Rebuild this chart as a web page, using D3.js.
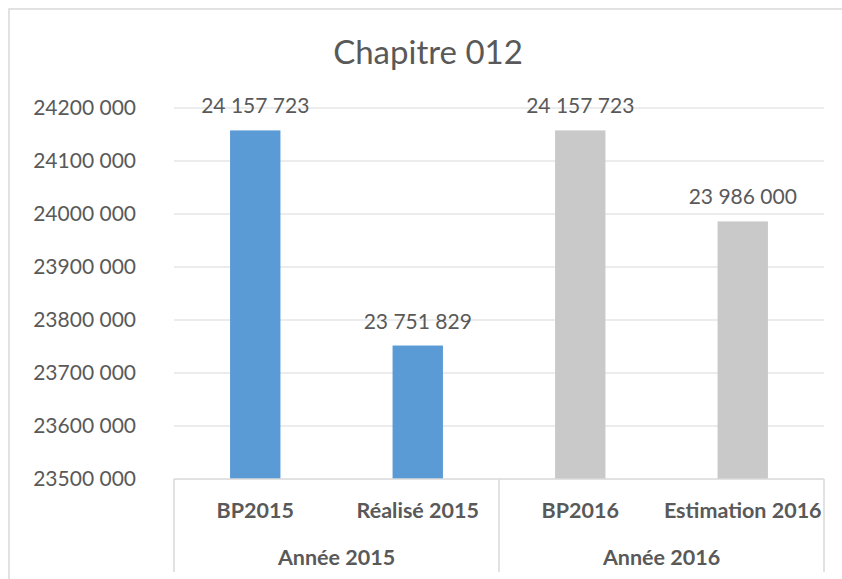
<!DOCTYPE html>
<html>
<head>
<meta charset="utf-8">
<script src="https://cdn.jsdelivr.net/npm/d3@7"></script>
<style>
  html, body { margin: 0; padding: 0; background: #fff; }
  svg { display: block; }
  text { font-family: Lato, "Open Sans", sans-serif; fill: #595959; }
</style>
</head>
<body>
<svg id="chart" width="842" height="579"></svg>
<script>
const title = "Chapitre 012";
const categories = ["BP2015", "Réalisé 2015", "BP2016", "Estimation 2016"];
const groups = ["Année 2015", "Année 2016"];
const groupOf = ["Année 2015", "Année 2015", "Année 2016", "Année 2016"];
const values = [24157723, 23751829, 24157723, 23986000];
const colors = ["#5B9BD5", "#5B9BD5", "#C9C9C9", "#C9C9C9"];
const yTicks = [23500000, 23600000, 23700000, 23800000, 23900000, 24000000, 24100000, 24200000];

const svg = d3.select("#chart");
const W = 842, H = 579;
const plot = { left: 174, right: 824, top: 108, bottom: 479 };

// outer chart border
svg.append("rect")
  .attr("x", 9).attr("y", 9).attr("width", 850).attr("height", 600)
  .attr("fill", "none").attr("stroke", "#D9D9D9").attr("stroke-width", 1.5);

const y = d3.scaleLinear().domain([23500000, 24200000]).range([plot.bottom, plot.top]);
const x = d3.scaleBand().domain(categories).range([plot.left, plot.right]).paddingInner(0).paddingOuter(0);
const xg = d3.scaleBand().domain(groups).range([plot.left, plot.right]);

const fmtSpace = n => String(n).replace(/\B(?=(\d{3})+(?!\d))/g, " ");
const fmtTick = n => {
  const s = String(n);
  return s.slice(0, s.length - 3) + " " + s.slice(s.length - 3);
};

// gridlines
svg.append("g").selectAll("line").data(yTicks.filter(t => t !== 23500000)).join("line")
  .attr("x1", plot.left).attr("x2", plot.right)
  .attr("y1", d => y(d)).attr("y2", d => y(d))
  .attr("stroke", "#D9D9D9").attr("stroke-width", 1);

// y labels
svg.append("g").selectAll("text").data(yTicks).join("text")
  .attr("x", 136).attr("y", d => y(d))
  .attr("dy", "0.35em").attr("text-anchor", "end")
  .attr("font-size", 21)
  .text(fmtTick);

// bars
const barW = x.bandwidth() * 0.31;
svg.append("g").selectAll("rect").data(values).join("rect")
  .attr("x", (d, i) => x(categories[i]) + x.bandwidth() / 2 - barW / 2)
  .attr("width", barW)
  .attr("y", d => y(d))
  .attr("height", d => y(23500000) - y(d))
  .attr("fill", (d, i) => colors[i]);

// data labels
svg.append("g").selectAll("text").data(values).join("text")
  .attr("x", (d, i) => x(categories[i]) + x.bandwidth() / 2)
  .attr("y", d => y(d) - 17)
  .attr("text-anchor", "middle")
  .attr("font-size", 21)
  .text(fmtSpace);

// category axis lines
const axis = svg.append("g").attr("stroke", "#D9D9D9").attr("stroke-width", 1.5);
axis.append("line").attr("x1", plot.left).attr("x2", plot.right)
  .attr("y1", plot.bottom).attr("y2", plot.bottom);
const seps = [plot.left, xg("Année 2016"), plot.right];
axis.selectAll("line.sep").data(seps).join("line").attr("class", "sep")
  .attr("x1", d => d).attr("x2", d => d)
  .attr("y1", plot.bottom).attr("y2", 572);

// category labels
svg.append("g").selectAll("text").data(categories).join("text")
  .attr("x", d => x(d) + x.bandwidth() / 2)
  .attr("y", 518)
  .attr("text-anchor", "middle")
  .attr("font-size", 21.5).attr("font-weight", "bold")
  .text(d => d);

svg.append("g").selectAll("text").data(groups).join("text")
  .attr("x", d => xg(d) + xg.bandwidth() / 2)
  .attr("y", 565)
  .attr("text-anchor", "middle")
  .attr("font-size", 21.5).attr("font-weight", "bold")
  .text(d => d);

// title
svg.append("text")
  .attr("x", 428).attr("y", 64)
  .attr("text-anchor", "middle")
  .attr("font-size", 33)
  .text(title);
</script>
</body>
</html>
